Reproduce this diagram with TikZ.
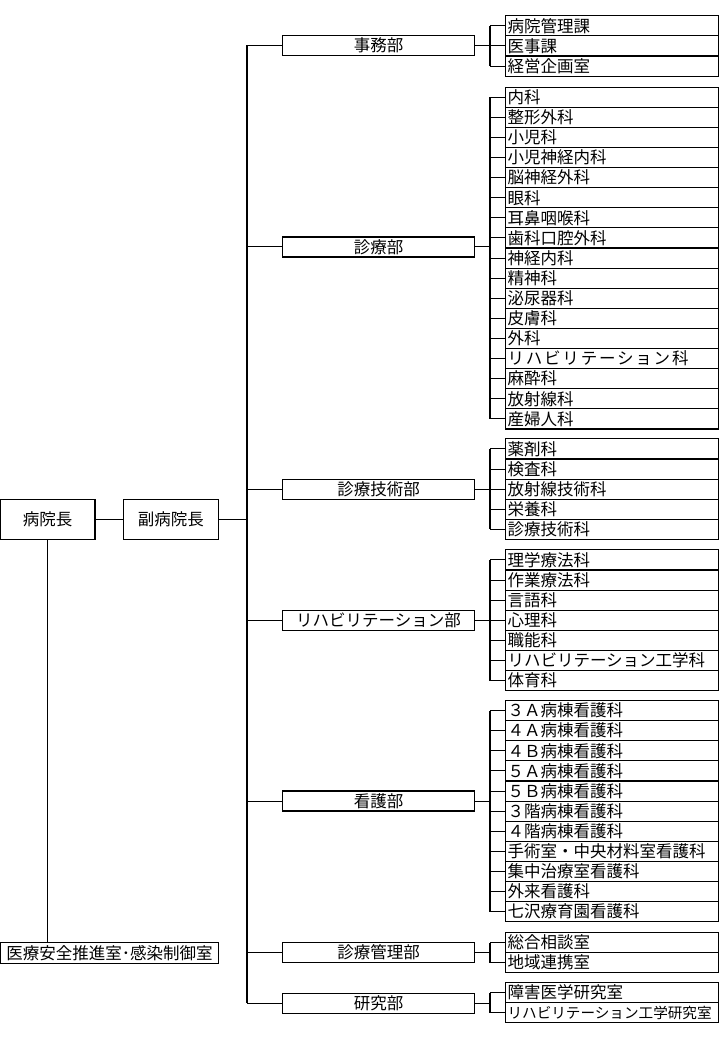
\documentclass[tikz,border=0pt]{standalone}
\usepackage{fontspec}
\setmainfont{Noto Sans CJK JP}
\newcommand\fs{\fontsize{16.5}{18}\selectfont}
\tikzset{
  x=1pt, y=-1pt,
  box/.style={draw, line width=1.1pt, inner sep=0pt, font=\fs},
  dept/.style={box, minimum width=192pt, minimum height=20pt},
  sub/.style={box, anchor=north west, minimum width=213pt, minimum height=20.1pt,
              text width=209pt, inner xsep=2pt, align=left},
  tick/.style={line width=1pt},
  brk/.style={line width=1.6pt},
  trunk/.style={line width=1.6pt}
}
\newcommand\grp[4]{%
  \foreach \t [count=\i] in {#4} {%
    \node[sub] (#1\i) at (505,{#3+(\i-1)*20.1}) {\t};
    \draw[tick] (#1\i.west -| bx) -- (#1\i.west);
    \xdef\lastn{\i}}
  \draw[brk] (#11.west -| bx) -- (#1\lastn.west -| bx);
  \draw[tick] (#2.east) -- (#2.east -| bx);
}
\begin{document}
\begin{tikzpicture}
\useasboundingbox (0,0) rectangle (720,1040);
\coordinate (bx) at (490,0);
\coordinate (tr) at (247,0);
% top
\node[box, minimum width=95pt, minimum height=40pt] (hd) at (47.5,519.3) {病院長};
\node[box, minimum width=95pt, minimum height=40pt] (vd) at (170.8,519.3) {副病院長};
\node[box, anchor=north west, minimum width=218pt, minimum height=21pt] (ms) at (0,942) {医療安全推進室･感染制御室};
\draw[tick] (hd) -- (vd);
\draw[tick] (hd) -- (hd |- ms.north);
\draw[tick] (vd.east) -- (vd.east -| tr);
% departments
\node[dept] (d1) at (378.5,45.3) {事務部};
\node[dept] (d2) at (378.5,247) {診療部};
\node[dept] (d3) at (378.5,489.2) {診療技術部};
\node[dept] (d4) at (378.5,620.2) {リハビリテーション部};
\node[dept] (d5) at (378.5,801) {看護部};
\node[dept] (d6) at (378.5,952.5) {診療管理部};
\node[dept] (d7) at (378.5,1003.3) {研究部};
\draw[trunk] (d1.west -| tr) -- (d7.west -| tr);
\foreach \k in {1,...,7} \draw[tick] (d\k.west -| tr) -- (d\k.west);
% groups
\grp{a}{d1}{15.3}{病院管理課,医事課,経営企画室}
\grp{b}{d2}{86.7}{内科,整形外科,小児科,小児神経内科,脳神経外科,眼科,耳鼻咽喉科,歯科口腔外科,神経内科,精神科,泌尿器科,皮膚科,外科,{\addfontfeature{LetterSpace=11}リハビリテーション科},麻酔科,放射線科,産婦人科}
\grp{c}{d3}{438.3}{薬剤科,検査科,放射線技術科,栄養科,診療技術科}
\grp{e}{d4}{549.3}{理学療法科,作業療法科,言語科,心理科,職能科,リハビリテーション工学科,体育科}
\grp{f}{d5}{700}{３Ａ病棟看護科,４Ａ病棟看護科,４Ｂ病棟看護科,５Ａ病棟看護科,５Ｂ病棟看護科,３階病棟看護科,４階病棟看護科,手術室・中央材料室看護科,集中治療室看護科,外来看護科,七沢療育園看護科}
\grp{g}{d6}{932}{総合相談室,地域連携室}
\grp{h}{d7}{982}{障害医学研究室,{\fontsize{14.6}{16}\selectfont リハビリテーション工学研究室}}
\end{tikzpicture}
\end{document}
